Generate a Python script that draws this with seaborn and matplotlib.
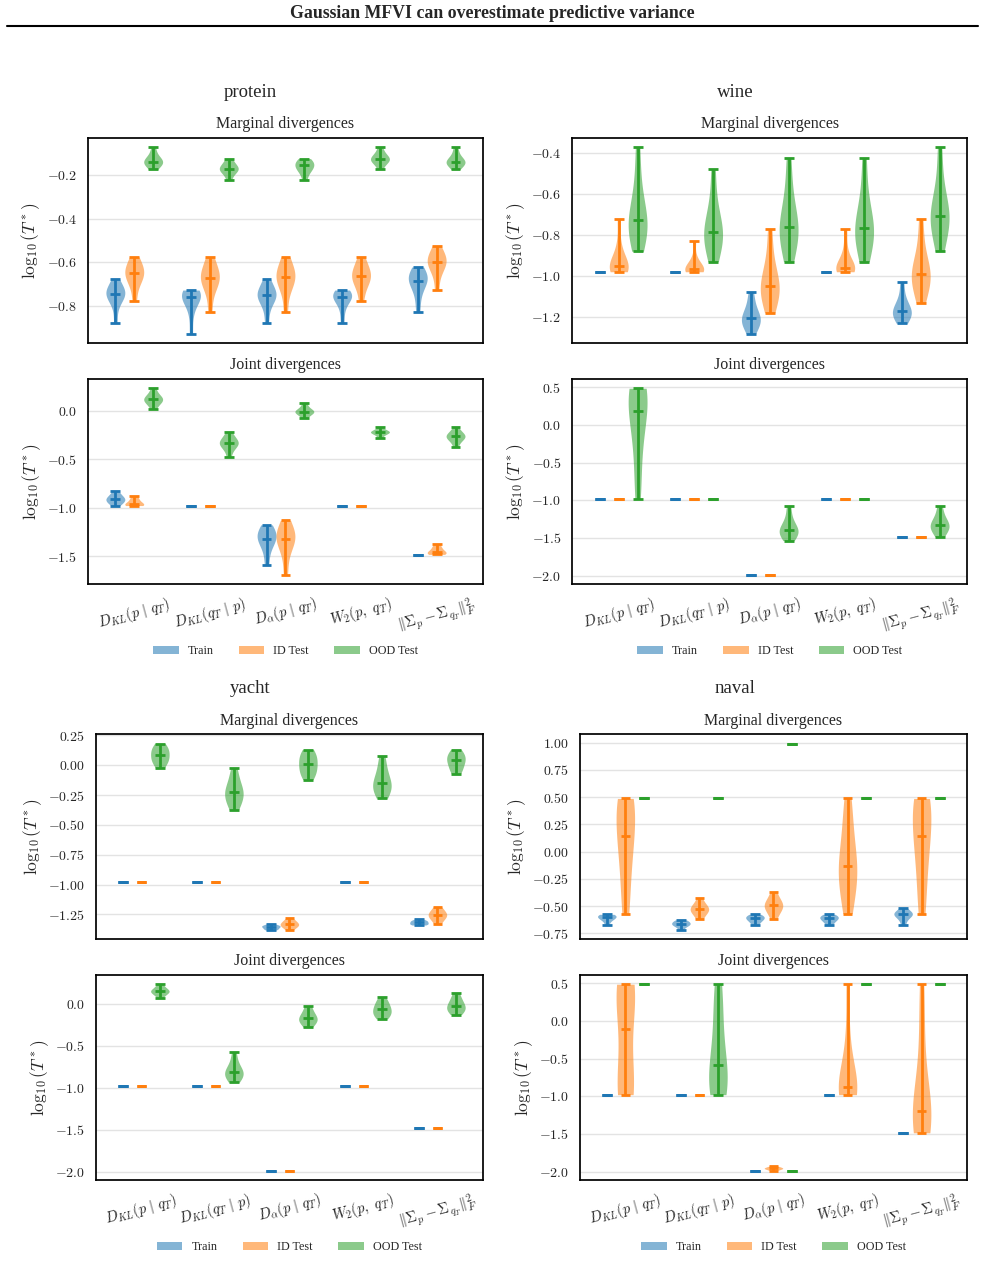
import matplotlib.pyplot as plt
import numpy as np
import pandas as pd
import seaborn as sns
from matplotlib.lines import Line2D
from matplotlib.patches import Patch
from matplotlib.ticker import MaxNLocator, ScalarFormatter

sns.set_theme(style="whitegrid")
plt.rcParams['font.family'] = ['Liberation Serif', 'DejaVu Serif']
plt.rcParams['mathtext.fontset'] = 'cm'
plt.rcParams['axes.edgecolor'] = 'black'
plt.rcParams['axes.linewidth'] = 1.25
plt.rcParams['grid.color'] = '#e3e3e3'
plt.rcParams['grid.linewidth'] = 1.0

## DATOS (log10(T*) por semilla)

grupos = ['Train', 'ID Test', 'OOD Test']
colores = ['#1f77b4', '#ff7f0e', '#2ca02c']
metricas = [r'$D_{KL}(p\ |\ q_T)$', r'$D_{KL}(q_T\ |\ p)$', r'$D_{\alpha}(p\ |\ q_T)$',
            r'$W_2(p,\ q_T)$', r'$\|\Sigma_p - \Sigma_{q_T}\|_F^2$']

# protein
protein_marg_train = [
    [-0.878, -0.80, -0.76, -0.75, -0.745, -0.74, -0.73, -0.71, -0.676],
    [-0.929, -0.84, -0.78, -0.765, -0.760, -0.75, -0.745, -0.735, -0.728],
    [-0.878, -0.81, -0.77, -0.76, -0.751, -0.745, -0.735, -0.71, -0.676],
    [-0.878, -0.82, -0.78, -0.765, -0.760, -0.755, -0.745, -0.735, -0.728],
    [-0.828, -0.76, -0.71, -0.69, -0.684, -0.67, -0.66, -0.645, -0.622],
]
protein_marg_id = [
    [-0.779, -0.71, -0.68, -0.66, -0.651, -0.64, -0.625, -0.60, -0.575],
    [-0.828, -0.74, -0.70, -0.68, -0.671, -0.66, -0.645, -0.61, -0.575],
    [-0.828, -0.74, -0.70, -0.68, -0.668, -0.655, -0.64, -0.61, -0.575],
    [-0.779, -0.72, -0.69, -0.675, -0.664, -0.65, -0.635, -0.61, -0.575],
    [-0.728, -0.66, -0.625, -0.605, -0.598, -0.59, -0.575, -0.555, -0.524],
]
protein_marg_ood = [
    [-0.172, -0.155, -0.145, -0.14, -0.137, -0.125, -0.12, -0.10, -0.070],
    [-0.223, -0.195, -0.18, -0.172, -0.169, -0.165, -0.155, -0.14, -0.122],
    [-0.223, -0.19, -0.175, -0.165, -0.154, -0.15, -0.14, -0.13, -0.122],
    [-0.172, -0.145, -0.135, -0.128, -0.123, -0.12, -0.11, -0.095, -0.070],
    [-0.172, -0.155, -0.145, -0.14, -0.137, -0.13, -0.12, -0.10, -0.070],
]
protein_joint_train = [
    [-0.976, -0.95, -0.935, -0.92, -0.908, -0.90, -0.88, -0.86, -0.822],
    [-0.979],
    [-1.586, -1.45, -1.36, -1.33, -1.318, -1.28, -1.25, -1.22, -1.175],
    [-0.979],
    [-1.482],
]
protein_joint_id = [
    [-0.976, -0.975, -0.97, -0.965, -0.955, -0.94, -0.92, -0.90, -0.873],
    [-0.979],
    [-1.688, -1.50, -1.38, -1.34, -1.318, -1.29, -1.25, -1.20, -1.127],
    [-0.979],
    [-1.479, -1.478, -1.47, -1.46, -1.452, -1.44, -1.42, -1.40, -1.377],
]
protein_joint_ood = [
    [0.024, 0.07, 0.095, 0.11, 0.120, 0.13, 0.15, 0.18, 0.233],
    [-0.476, -0.40, -0.36, -0.345, -0.332, -0.32, -0.30, -0.27, -0.219],
    [-0.075, -0.04, -0.02, -0.012, -0.007, 0.0, 0.01, 0.04, 0.079],
    [-0.281, -0.25, -0.23, -0.222, -0.219, -0.215, -0.21, -0.195, -0.171],
    [-0.377, -0.32, -0.29, -0.27, -0.264, -0.255, -0.24, -0.215, -0.171],
]

# wine
wine_marg_train = [
    [-0.979],
    [-0.979],
    [-1.281, -1.25, -1.23, -1.215, -1.206, -1.195, -1.17, -1.13, -1.078],
    [-0.979],
    [-1.230, -1.205, -1.19, -1.18, -1.172, -1.16, -1.14, -1.10, -1.029],
]
wine_marg_id = [
    [-0.979, -0.975, -0.965, -0.958, -0.952, -0.94, -0.92, -0.85, -0.724],
    [-0.979, -0.977, -0.974, -0.97, -0.968, -0.96, -0.945, -0.91, -0.827],
    [-1.179, -1.12, -1.09, -1.065, -1.049, -1.02, -0.98, -0.90, -0.773],
    [-0.979, -0.976, -0.97, -0.965, -0.960, -0.95, -0.93, -0.87, -0.773],
    [-1.130, -1.07, -1.03, -1.005, -0.992, -0.97, -0.93, -0.85, -0.724],
]
wine_marg_ood = [
    [-0.879, -0.82, -0.78, -0.755, -0.729, -0.70, -0.64, -0.53, -0.372],
    [-0.930, -0.87, -0.83, -0.80, -0.784, -0.76, -0.71, -0.62, -0.476],
    [-0.930, -0.86, -0.81, -0.78, -0.760, -0.73, -0.67, -0.57, -0.424],
    [-0.930, -0.86, -0.815, -0.785, -0.767, -0.74, -0.68, -0.58, -0.424],
    [-0.879, -0.80, -0.75, -0.72, -0.705, -0.68, -0.63, -0.53, -0.372],
]
wine_joint_train = [[-0.979], [-0.979], [-1.987], [-0.979], [-1.482]]
wine_joint_id = [[-0.979], [-0.979], [-1.987], [-0.979], [-1.482]]
wine_joint_ood = [
    [-0.979, -0.6, -0.2, 0.02, 0.181, 0.35, 0.45, 0.488, 0.488],
    [-0.979],
    [-1.535, -1.48, -1.44, -1.415, -1.394, -1.37, -1.32, -1.22, -1.071],
    [-0.979],
    [-1.482, -1.42, -1.38, -1.35, -1.327, -1.30, -1.26, -1.18, -1.071],
]

# yacht
yacht_marg_train = [
    [-0.979],
    [-0.979],
    [-1.381, -1.375, -1.37, -1.36, -1.353, -1.35, -1.345, -1.34, -1.331],
    [-0.979],
    [-1.339, -1.335, -1.33, -1.325, -1.317, -1.31, -1.305, -1.30, -1.289],
]
yacht_marg_id = [
    [-0.979],
    [-0.979],
    [-1.381, -1.36, -1.35, -1.34, -1.333, -1.325, -1.315, -1.30, -1.283],
    [-0.979],
    [-1.333, -1.30, -1.28, -1.265, -1.255, -1.245, -1.23, -1.21, -1.185],
]
yacht_marg_ood = [
    [-0.022, 0.02, 0.04, 0.06, 0.087, 0.11, 0.13, 0.155, 0.182],
    [-0.373, -0.32, -0.28, -0.25, -0.227, -0.20, -0.16, -0.10, -0.020],
    [-0.120, -0.08, -0.05, -0.02, 0.011, 0.04, 0.07, 0.10, 0.132],
    [-0.275, -0.23, -0.20, -0.175, -0.148, -0.12, -0.07, 0.0, 0.081],
    [-0.073, -0.04, -0.01, 0.02, 0.042, 0.06, 0.08, 0.105, 0.132],
]
yacht_joint_train = [[-0.979], [-0.979], [-1.987], [-0.979], [-1.485]]
yacht_joint_id = [[-0.979], [-0.979], [-1.987], [-0.979], [-1.485]]
yacht_joint_ood = [
    [0.075, 0.11, 0.13, 0.145, 0.151, 0.16, 0.175, 0.20, 0.234],
    [-0.933, -0.89, -0.86, -0.835, -0.813, -0.79, -0.75, -0.68, -0.575],
    [-0.278, -0.235, -0.21, -0.19, -0.171, -0.15, -0.12, -0.075, -0.020],
    [-0.179, -0.145, -0.12, -0.095, -0.067, -0.04, -0.01, 0.03, 0.079],
    [-0.127, -0.095, -0.07, -0.05, -0.028, 0.0, 0.03, 0.075, 0.131],
]

# naval
naval_marg_train = [
    [-0.674, -0.64, -0.62, -0.61, -0.604, -0.595, -0.585, -0.58, -0.576],
    [-0.720, -0.69, -0.675, -0.67, -0.665, -0.655, -0.645, -0.635, -0.628],
    [-0.674, -0.65, -0.635, -0.62, -0.613, -0.605, -0.595, -0.585, -0.576],
    [-0.674, -0.65, -0.635, -0.62, -0.613, -0.605, -0.595, -0.585, -0.576],
    [-0.674, -0.63, -0.60, -0.585, -0.576, -0.57, -0.56, -0.545, -0.521],
]
naval_marg_id = [
    [-0.570, -0.35, -0.10, 0.05, 0.147, 0.30, 0.42, 0.487, 0.487],
    [-0.622, -0.58, -0.555, -0.54, -0.527, -0.515, -0.50, -0.47, -0.423],
    [-0.622, -0.565, -0.535, -0.51, -0.493, -0.48, -0.46, -0.42, -0.368],
    [-0.570, -0.40, -0.28, -0.20, -0.129, -0.05, 0.10, 0.30, 0.487],
    [-0.570, -0.35, -0.10, 0.05, 0.147, 0.30, 0.42, 0.487, 0.487],
]
naval_marg_ood = [[0.487], [0.487], [0.990], [0.487], [0.487]]
naval_joint_train = [[-0.979], [-0.979], [-1.987], [-0.979], [-1.485]]
naval_joint_id = [
    [-0.979, -0.979, -0.95, -0.6, -0.102, 0.25, 0.45, 0.487, 0.487],
    [-0.979],
    [-1.987, -1.975, -1.965, -1.96, -1.956, -1.95, -1.945, -1.935, -1.925],
    [-0.979, -0.975, -0.96, -0.93, -0.876, -0.80, -0.65, -0.2, 0.487],
    [-1.485, -1.42, -1.36, -1.28, -1.190, -1.05, -0.7, -0.1, 0.487],
]
naval_joint_ood = [
    [0.487],
    [-0.979, -0.95, -0.88, -0.75, -0.588, -0.40, -0.1, 0.25, 0.487],
    [-1.987],
    [0.487],
    [0.487],
]

paneles = {
    'protein': [(protein_marg_train, protein_marg_id, protein_marg_ood),
                (protein_joint_train, protein_joint_id, protein_joint_ood)],
    'wine': [(wine_marg_train, wine_marg_id, wine_marg_ood),
             (wine_joint_train, wine_joint_id, wine_joint_ood)],
    'yacht': [(yacht_marg_train, yacht_marg_id, yacht_marg_ood),
              (yacht_joint_train, yacht_joint_id, yacht_joint_ood)],
    'naval': [(naval_marg_train, naval_marg_id, naval_marg_ood),
              (naval_joint_train, naval_joint_id, naval_joint_ood)],
}

## LAYOUT (fracciones de figura)
# izquierda, ancho, bottom marginal, bottom joint
posiciones = {
    'protein': (0.0893, 0.4010, 0.7337, 0.5466),
    'wine': (0.5812, 0.4005, 0.7337, 0.5466),
    'yacht': (0.0975, 0.3926, 0.2707, 0.0839),
    'naval': (0.5888, 0.3929, 0.2707, 0.0839),
}
alto = 0.1592
pos_titulos = {'protein': (0.2538, 0.9278), 'wine': (0.7462, 0.9278),
               'yacht': (0.2538, 0.4651), 'naval': (0.7462, 0.4651)}


class FormatoCM(ScalarFormatter):
    '''Etiquetas del eje y en Computer Modern (mathtext).'''
    def __call__(self, x, pos=None):
        s = super().__call__(x, pos).replace('\u2212', '-')
        return f'${s}$' if s else s


def panel_violines(ax, series, con_etiquetas):
    '''
    Dibuja los violines de un panel (5 métricas x 3 grupos) con
    extremos y mediana al estilo de matplotlib.
    '''
    filas = []
    resumen = []
    for g, (nombre, por_metrica) in enumerate(zip(grupos, series)):
        for m, vals in enumerate(por_metrica):
            pos = 4 * m + g
            vals = np.asarray(vals, dtype=float)
            resumen.append((pos, g, vals.min(), vals.max(), np.median(vals)))
            if np.ptp(vals) > 0:
                filas += [(pos, nombre, v) for v in vals]
    df = pd.DataFrame(filas, columns=['pos', 'grupo', 'valor'])

    sns.violinplot(data=df, x='pos', y='valor', hue='grupo', order=list(range(19)),
                   hue_order=grupos, palette=colores, dodge=False, width=1, cut=0,
                   inner=None, density_norm='width', saturation=1, linewidth=0,
                   alpha=0.55, legend=False, ax=ax)

    for pos, g, lo, hi, med in resumen:
        c = colores[g]
        ax.vlines(pos, lo, hi, color=c, lw=2.0)
        ax.hlines([lo, hi, med], pos - 0.26, pos + 0.26, color=c, lw=2.0)

    ax.set_xlim(-1.45, 19.45)
    ax.yaxis.set_major_locator(MaxNLocator(nbins=8, steps=[1, 2, 2.5, 5, 10]))
    ax.yaxis.set_major_formatter(FormatoCM())
    ax.grid(axis='x', visible=False)
    ax.grid(axis='y', visible=True)
    ax.set_xlabel('')
    ax.set_ylabel(r'$\log_{10}(T^*)$', fontsize=12.5, labelpad=3)
    ax.tick_params(axis='y', which='major', length=4, width=1, color='black',
                   labelsize=10, pad=4)
    if con_etiquetas:
        ax.set_xticks([1, 5, 9, 13, 17])
        ax.set_xticklabels(metricas, rotation=15, ha='center', fontsize=10.5)
        ax.tick_params(axis='x', which='major', length=4.5, width=1.1, color='black', pad=3)
    else:
        ax.set_xticks([])
    for s in ax.spines.values():
        s.set_color('black')
        s.set_linewidth(1.25)


fig = plt.figure(figsize=(9.85, 12.88), dpi=100)

fig.text(0.5, 0.9899, 'Gaussian MFVI can overestimate predictive variance',
         ha='center', va='center', fontsize=12.8, fontweight='bold')
fig.add_artist(Line2D([0.007, 0.993], [0.9798, 0.9798], color='black', lw=1.5))

for nombre, (marg, joint) in paneles.items():
    izq, ancho, b_marg, b_joint = posiciones[nombre]
    ax_m = fig.add_axes([izq, b_marg, ancho, alto])
    ax_j = fig.add_axes([izq, b_joint, ancho, alto])

    panel_violines(ax_m, marg, con_etiquetas=False)
    panel_violines(ax_j, joint, con_etiquetas=True)

    ax_m.set_title('Marginal divergences', fontsize=11.5, pad=7)
    ax_j.set_title('Joint divergences', fontsize=11.5, pad=7)

    tx, ty = pos_titulos[nombre]
    fig.text(tx, ty, nombre, ha='center', va='center', fontsize=13.5)

    handles = [Patch(facecolor=c, alpha=0.55, linewidth=0) for c in colores]
    ax_j.legend(handles, grupos, loc='center', bbox_to_anchor=(0.5, -0.327), ncol=3,
                frameon=False, fontsize=8.7, handlelength=2.1, handleheight=0.7,
                handletextpad=0.75, columnspacing=2.1)

fig.savefig('out.png', dpi=100)
